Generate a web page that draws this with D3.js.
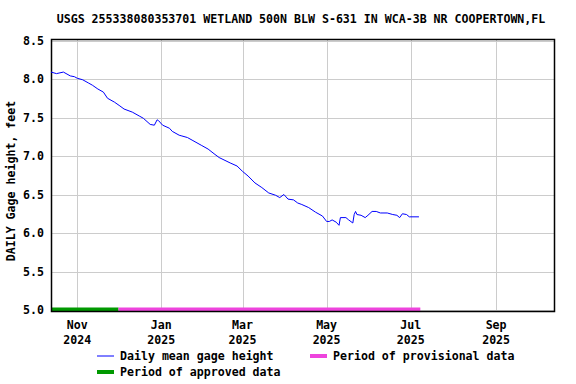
<!DOCTYPE html>
<html lang="en">
<head>
<meta charset="UTF-8">
<title>USGS gage height</title>
<script src="https://d3js.org/d3.v7.min.js"></script>
<style>
  body { margin: 0; background: #fff; }
  text { font-family: "DejaVu Sans Mono", monospace; font-weight: bold; font-size: 11.6px; fill: #000; }
</style>
</head>
<body>
<svg id="chart" width="576" height="384"></svg>
<script>
// daily mean gage height
const dates = ["2024-10-13","2024-10-17","2024-10-22","2024-10-27","2024-10-30","2024-11-01","2024-11-05","2024-11-09",
  "2024-11-12","2024-11-16","2024-11-20","2024-11-23","2024-11-28","2024-12-02","2024-12-05","2024-12-11","2024-12-16",
  "2024-12-19","2024-12-24","2024-12-27","2024-12-29","2024-12-30","2025-01-02","2025-01-07","2025-01-09","2025-01-14",
  "2025-01-16","2025-01-20","2025-01-24","2025-01-30","2025-02-04","2025-02-09","2025-02-12","2025-02-20","2025-02-25",
  "2025-03-01","2025-03-05","2025-03-10","2025-03-15","2025-03-20","2025-03-25","2025-03-28","2025-03-31","2025-04-01",
  "2025-04-03","2025-04-07","2025-04-10","2025-04-13","2025-04-18","2025-04-23","2025-04-28","2025-05-01","2025-05-03",
  "2025-05-05","2025-05-08","2025-05-10","2025-05-11","2025-05-15","2025-05-17","2025-05-20","2025-05-21","2025-05-22",
  "2025-05-23","2025-05-26","2025-05-29","2025-05-31","2025-06-03","2025-06-06","2025-06-09","2025-06-14","2025-06-18",
  "2025-06-21","2025-06-23","2025-06-25","2025-06-28","2025-06-30","2025-07-07"];
const heights = [8.09,8.07,8.09,8.04,8.03,8.01,7.99,7.95,
  7.92,7.87,7.83,7.75,7.70,7.65,7.61,7.57,7.52,
  7.49,7.41,7.40,7.47,7.46,7.40,7.36,7.32,7.27,
  7.26,7.24,7.20,7.14,7.09,7.02,6.98,6.91,6.87,
  6.80,6.74,6.65,6.59,6.52,6.49,6.46,6.50,6.48,
  6.44,6.43,6.39,6.37,6.33,6.27,6.22,6.15,6.15,
  6.17,6.14,6.10,6.20,6.20,6.17,6.13,6.24,6.28,
  6.24,6.23,6.20,6.23,6.28,6.28,6.26,6.26,6.24,
  6.23,6.20,6.25,6.24,6.21,6.21];

// data-approval periods
const periods = [
  { label: "Period of approved data", start: "2024-10-13", end: "2024-11-30", color: "#009900" },
  { label: "Period of provisional data", start: "2024-12-01", end: "2025-07-07", color: "#ee44dd" }
];

const yTicks = [5.0, 5.5, 6.0, 6.5, 7.0, 7.5, 8.0, 8.5];
const xTicks = ["2024-11-01","2025-01-01","2025-03-01","2025-05-01","2025-07-01","2025-09-01"];
const title = "USGS 255338080353701 WETLAND 500N BLW S-631 IN WCA-3B NR COOPERTOWN,FL";

const parse = d3.utcParse("%Y-%m-%d");
const series = dates.map((d, i) => ({ date: parse(d), value: heights[i] }));

const svg = d3.select("#chart");
const plotL = 51, plotR = 554, plotT = 39.5, plotB = 311.5;

const x = d3.scaleUtc()
  .domain([parse("2024-10-13"), parse("2025-10-13")])
  .range([plotL, plotR]);
const y = d3.scaleLinear().domain([5, 8.5]).range([310, 40.5]);

// grid
svg.append("g").selectAll("line").data(yTicks).join("line")
  .attr("x1", plotL).attr("x2", plotR)
  .attr("y1", d => Math.round(y(d)) + 0.5).attr("y2", d => Math.round(y(d)) + 0.5)
  .attr("stroke", "#cccccc");
svg.append("g").selectAll("line").data(xTicks).join("line")
  .attr("x1", d => Math.round(x(parse(d))) + 0.5).attr("x2", d => Math.round(x(parse(d))) + 0.5)
  .attr("y1", plotT).attr("y2", plotB)
  .attr("stroke", "#cccccc");

// approval bars along the bottom
svg.append("g").selectAll("rect").data(periods).join("rect")
  .attr("x", d => x(parse(d.start)))
  .attr("width", d => x(d3.utcDay.offset(parse(d.end), 1)) - x(parse(d.start)))
  .attr("y", plotB - 4).attr("height", 4)
  .attr("fill", d => d.color);

// frame
svg.append("rect")
  .attr("x", plotL + 0.5).attr("y", plotT).attr("width", plotR - plotL).attr("height", plotB - plotT)
  .attr("fill", "none").attr("stroke", "#000").attr("stroke-width", 1.5);

// line
svg.append("path").datum(series)
  .attr("fill", "none").attr("stroke", "#0000ff").attr("stroke-width", 1)
  .attr("d", d3.line().x(d => x(d.date)).y(d => y(d.value)));

// y tick labels
svg.append("g").selectAll("text").data(yTicks).join("text")
  .attr("x", 44).attr("y", d => y(d) + 4)
  .attr("text-anchor", "end")
  .text(d => d.toFixed(1));

// x tick labels (month / year)
const fmtM = d3.utcFormat("%b"), fmtY = d3.utcFormat("%Y");
const xl = svg.append("g").selectAll("text").data(xTicks).join("text")
  .attr("text-anchor", "middle")
  .attr("x", d => x(parse(d)));
xl.append("tspan").attr("x", d => x(parse(d))).attr("y", 329).text(d => fmtM(parse(d)));
xl.append("tspan").attr("x", d => x(parse(d))).attr("y", 344).text(d => fmtY(parse(d)));

// title
svg.append("text").attr("x", 301).attr("y", 23).attr("text-anchor", "middle").text(title);

// y axis title
svg.append("text")
  .attr("transform", "translate(15,181) rotate(-90)")
  .attr("text-anchor", "middle")
  .text("DAILY Gage height, feet");

// legend
const legend = [
  { label: "Daily mean gage height", color: "#0000ff", w: 1, lx: 97, ly: 356 },
  { label: periods[1].label, color: periods[1].color, w: 4, lx: 310, ly: 356 },
  { label: periods[0].label, color: periods[0].color, w: 4, lx: 97, ly: 372 }
];
const lg = svg.append("g").selectAll("g").data(legend).join("g");
lg.append("line")
  .attr("x1", d => d.lx).attr("x2", d => d.lx + 17)
  .attr("y1", d => d.ly).attr("y2", d => d.ly)
  .attr("stroke", d => d.color).attr("stroke-width", d => d.w);
lg.append("text")
  .attr("x", d => d.lx + 23).attr("y", d => d.ly + 4)
  .text(d => d.label);
</script>
</body>
</html>
